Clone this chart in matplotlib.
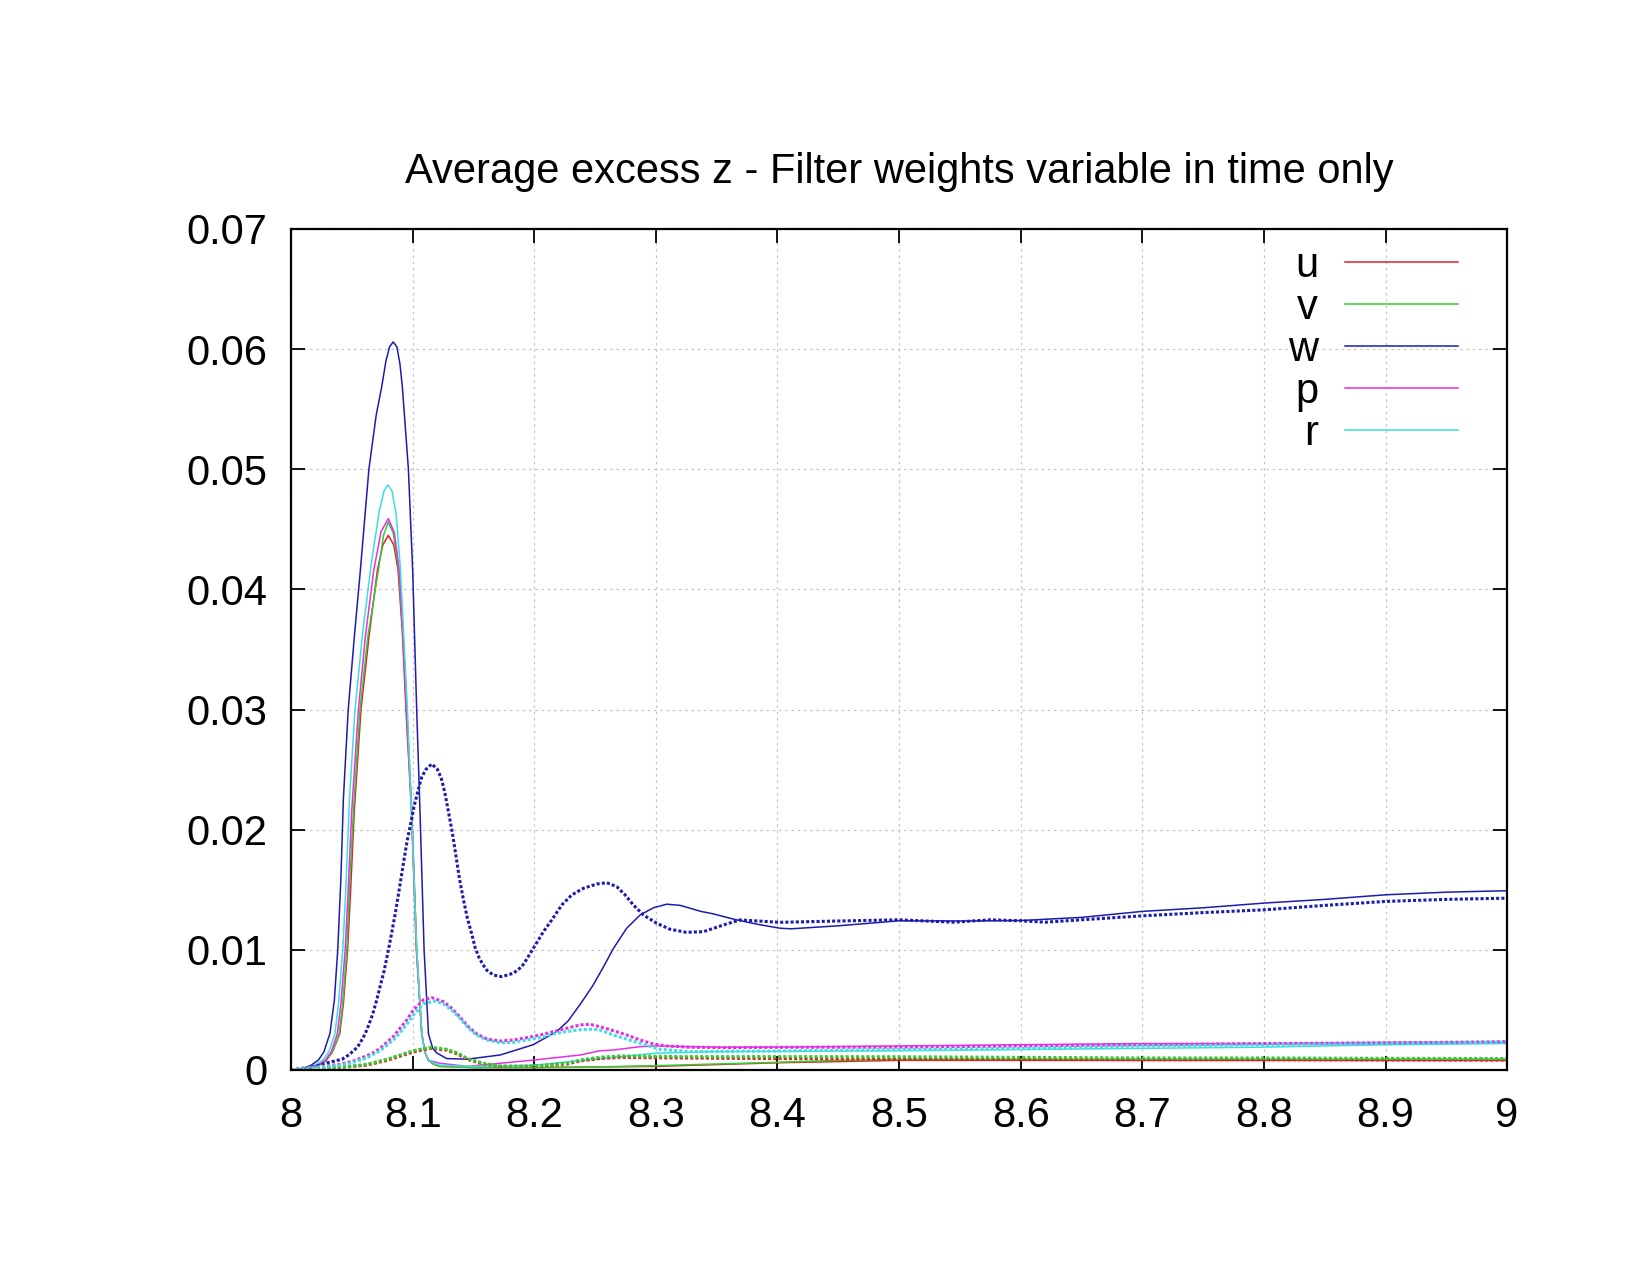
# excess_z.py
# average excess z for u, v, w, p, r, filter weights variable in time only
# solid lines and dotted lines per variable
import matplotlib
matplotlib.use("Agg")
import matplotlib.pyplot as plt

plt.rcParams["font.family"] = ["Liberation Sans", "DejaVu Sans"]

names = ["u", "v", "w", "p", "r"]
colors = ["#dd2222", "#33cc33", "#1c1cae", "#e62ee6", "#3ddede"]

x_ticks = [8.0, 8.1, 8.2, 8.3, 8.4, 8.5, 8.6, 8.7, 8.8, 8.9, 9.0]
x_labels = ["8", "8.1", "8.2", "8.3", "8.4", "8.5", "8.6", "8.7", "8.8", "8.9", "9"]
y_ticks = [0.0, 0.01, 0.02, 0.03, 0.04, 0.05, 0.06, 0.07]
y_labels = ["0", "0.01", "0.02", "0.03", "0.04", "0.05", "0.06", "0.07"]

# solid lines
u_x = [8.0, 8.012, 8.019, 8.025, 8.029, 8.034, 8.040, 8.043, 8.0465, 8.049, 8.052,
       8.0575, 8.064, 8.071, 8.0755, 8.080, 8.0845, 8.088, 8.0915, 8.0945, 8.099, 8.103,
       8.1075, 8.110, 8.113, 8.117, 8.122, 8.15, 8.2, 8.3, 8.4, 8.5, 8.6, 8.7, 8.8, 8.9,
       9.0]
u_y = [0.0, 0.00005, 0.0002, 0.0005, 0.0008, 0.0015, 0.003, 0.0055, 0.010, 0.015, 0.0216,
       0.030, 0.036, 0.0416, 0.0437, 0.0445, 0.0437, 0.0416, 0.0365, 0.030, 0.0216, 0.010,
       0.003, 0.0015, 0.0008, 0.0005, 0.0003, 0.0002, 0.0002, 0.0003, 0.0006, 0.0008, 0.0008,
       0.0008, 0.0008, 0.0008, 0.0008]

v_x = [8.0, 8.011, 8.018, 8.024, 8.0285, 8.034, 8.0395, 8.0425, 8.0458, 8.048, 8.0513,
       8.0567, 8.063, 8.0718, 8.076, 8.080, 8.084, 8.0885, 8.092, 8.0951, 8.0992, 8.1033,
       8.1075, 8.110, 8.113, 8.117, 8.122, 8.15, 8.2, 8.238, 8.3, 8.35, 8.4, 8.45, 8.5,
       8.6, 8.7, 8.8, 8.9, 9.0]
v_y = [0.0, 0.00005, 0.0002, 0.0005, 0.0008, 0.0015, 0.003, 0.0055, 0.010, 0.015, 0.0216,
       0.030, 0.036, 0.0416, 0.0445, 0.0456, 0.0447, 0.0416, 0.0365, 0.030, 0.0216, 0.010,
       0.003, 0.0015, 0.0008, 0.0005, 0.0003, 0.0002, 0.0002, 0.00022, 0.00036, 0.0005,
       0.00064, 0.0008, 0.00088, 0.0009, 0.0009, 0.0009, 0.0009, 0.0009]

w_x = [8.0, 8.010, 8.0165, 8.0225, 8.027, 8.032, 8.0356, 8.0384, 8.041, 8.043, 8.047,
       8.052, 8.057, 8.064, 8.070, 8.0746, 8.078, 8.081, 8.084, 8.087, 8.0895, 8.0915,
       8.0965, 8.100, 8.1033, 8.106, 8.1094, 8.113, 8.1165, 8.120, 8.128, 8.145, 8.172,
       8.199, 8.2185, 8.228, 8.238, 8.248, 8.257, 8.265, 8.276, 8.287, 8.298, 8.309, 8.320,
       8.337, 8.347, 8.366, 8.385, 8.402, 8.411, 8.45, 8.5, 8.55, 8.6, 8.65, 8.7, 8.75,
       8.8, 8.85, 8.9, 8.95, 9.0]
w_y = [0.0, 0.0001, 0.0004, 0.00083, 0.0015, 0.00305, 0.0058, 0.010, 0.016, 0.0225, 0.030,
       0.036, 0.0416, 0.050, 0.0545, 0.0569, 0.0590, 0.0602, 0.0606, 0.0602, 0.0588, 0.0569,
       0.050, 0.0416, 0.030, 0.0216, 0.010, 0.003, 0.0018, 0.0014, 0.00095, 0.0009, 0.00125,
       0.0021, 0.0032, 0.0041, 0.0055, 0.0070, 0.0086, 0.0101, 0.0118, 0.0129, 0.0135, 0.0138,
       0.0137, 0.0132, 0.0130, 0.0125, 0.0121, 0.0118, 0.01175, 0.0120, 0.01242, 0.0124,
       0.01244, 0.0127, 0.0132, 0.0135, 0.01389, 0.0142, 0.01458, 0.0148, 0.01492]

p_x = [8.0, 8.010, 8.016, 8.023, 8.028, 8.033, 8.038, 8.041, 8.0445, 8.047, 8.0499,
       8.0554, 8.061, 8.068, 8.074, 8.080, 8.085, 8.089, 8.092, 8.095, 8.0992, 8.1033,
       8.1075, 8.110, 8.113, 8.1225, 8.145, 8.2, 8.238, 8.254, 8.265, 8.287, 8.3, 8.35,
       8.4, 8.5, 8.6, 8.7, 8.8, 8.9, 9.0]
p_y = [0.0, 0.00005, 0.0002, 0.0005, 0.0008, 0.0015, 0.003, 0.0055, 0.010, 0.015, 0.0216,
       0.030, 0.036, 0.0416, 0.0448, 0.0459, 0.0447, 0.0416, 0.0365, 0.030, 0.0216, 0.010,
       0.003, 0.0015, 0.0008, 0.00056, 0.0003, 0.00083, 0.00125, 0.0016, 0.00166, 0.00194,
       0.002, 0.0019, 0.0019, 0.002, 0.0021, 0.0022, 0.0022, 0.0023, 0.0023]

r_x = [8.0, 8.009, 8.015, 8.021, 8.026, 8.031, 8.036, 8.039, 8.0425, 8.045, 8.048,
       8.0526, 8.059, 8.0658, 8.0725, 8.0765, 8.0795, 8.083, 8.0865, 8.090, 8.0957, 8.099,
       8.1033, 8.1075, 8.110, 8.113, 8.122, 8.15, 8.2, 8.25, 8.3, 8.35, 8.4, 8.5, 8.6, 8.7,
       8.8, 8.9, 9.0]
r_y = [0.0, 0.00005, 0.0002, 0.0005, 0.0008, 0.0015, 0.003, 0.0055, 0.010, 0.015, 0.0225,
       0.030, 0.0365, 0.042, 0.0465, 0.0482, 0.0487, 0.0482, 0.0462, 0.0416, 0.030, 0.0216,
       0.010, 0.003, 0.0015, 0.0008, 0.0004, 0.0003, 0.0004, 0.0009, 0.0014, 0.00153,
       0.00155, 0.0016, 0.0017, 0.0018, 0.0019, 0.0021, 0.0022]

# dotted lines
ud_x = [8.0, 8.0458, 8.0622, 8.0787, 8.0896, 8.1006, 8.1143, 8.128, 8.1376, 8.1445,
        8.1582, 8.1719, 8.2, 8.227, 8.2377, 8.254, 8.27, 8.32, 8.4, 8.5, 8.6, 8.7, 8.8,
        8.9, 9.0]
ud_y = [0.0, 0.00025, 0.0004, 0.0008, 0.00115, 0.0015, 0.0018, 0.00165, 0.0013, 0.0009,
        0.0005, 0.0003, 0.0003, 0.0005, 0.00075, 0.00095, 0.00105, 0.001, 0.00095, 0.0009,
        0.00088, 0.00085, 0.00085, 0.00083, 0.00082]

vd_x = [8.0, 8.0458, 8.0622, 8.0787, 8.0896, 8.1006, 8.1143, 8.128, 8.1376, 8.1445,
        8.1582, 8.1719, 8.186, 8.2, 8.227, 8.2377, 8.254, 8.27, 8.32, 8.4, 8.5, 8.6, 8.7,
        8.8, 8.9, 9.0]
vd_y = [0.0, 0.00028, 0.00047, 0.00089, 0.00125, 0.00161, 0.00189, 0.00172, 0.00139,
        0.00097, 0.00056, 0.00033, 0.0003, 0.00033, 0.00056, 0.00083, 0.00106, 0.00117,
        0.00111, 0.00111, 0.0011, 0.00105, 0.001, 0.001, 0.00097, 0.00095]

wd_x = [8.0, 8.020, 8.030, 8.042, 8.0452, 8.048, 8.0513, 8.0546, 8.0576, 8.0609, 8.0639,
        8.0672, 8.0702, 8.0732, 8.0765, 8.0795, 8.0828, 8.0861, 8.0891, 8.0921, 8.0951,
        8.0984, 8.1014, 8.1047, 8.1074, 8.111, 8.1157, 8.1203, 8.1236, 8.1264, 8.1294,
        8.1327, 8.1357, 8.1384, 8.1417, 8.145, 8.1486, 8.1513, 8.1546, 8.1576, 8.161,
        8.1664, 8.1733, 8.1828, 8.1897, 8.1924, 8.1987, 8.2075, 8.2144, 8.2226, 8.2308,
        8.2404, 8.2514, 8.2596, 8.2678, 8.2747, 8.2815, 8.2898, 8.3007, 8.3117, 8.325,
        8.3391, 8.3555, 8.3692, 8.402, 8.45, 8.5, 8.545, 8.575, 8.6, 8.62, 8.65, 8.7,
        8.75, 8.8, 8.85, 8.9, 8.95, 9.0]
wd_y = [0.0, 0.0003, 0.0006, 0.0009, 0.0011, 0.0013, 0.0016, 0.0019, 0.0024, 0.0030,
        0.00375, 0.00466, 0.00574, 0.00694, 0.00824, 0.00971, 0.01143, 0.01326, 0.01512,
        0.01701, 0.01887, 0.02053, 0.02206, 0.02336, 0.02436, 0.02503, 0.02547, 0.02503,
        0.02425, 0.02311, 0.0215, 0.0197, 0.01776, 0.01596, 0.0142, 0.01263, 0.01132,
        0.01021, 0.00935, 0.0088, 0.0083, 0.0079, 0.00777, 0.00805, 0.0086, 0.0090, 0.01004,
        0.01151, 0.01249, 0.01373, 0.01457, 0.01512, 0.01548, 0.01559, 0.01526, 0.01457,
        0.01373, 0.0129, 0.01221, 0.01171, 0.01146, 0.01151, 0.01207, 0.01249, 0.01229,
        0.0124, 0.0125, 0.0123, 0.0125, 0.01242, 0.0123, 0.0125, 0.01283, 0.0131, 0.01333,
        0.0137, 0.01403, 0.0142, 0.0143]

pd_x = [8.0, 8.016, 8.0403, 8.0513, 8.0622, 8.0677, 8.0732, 8.0787, 8.0841, 8.0896,
        8.0951, 8.1006, 8.1088, 8.1157, 8.1253, 8.1322, 8.139, 8.1458, 8.1527, 8.161,
        8.1719, 8.1828, 8.1938, 8.2048, 8.2157, 8.2267, 8.2377, 8.2459, 8.2541, 8.265,
        8.276, 8.287, 8.298, 8.309, 8.328, 8.361, 8.4, 8.5, 8.6, 8.7, 8.8, 8.9, 9.0]
pd_y = [0.0, 0.0002, 0.00047, 0.00075, 0.00117, 0.00144, 0.0018, 0.0023, 0.00277, 0.00347,
        0.00416, 0.005, 0.00583, 0.00602, 0.00569, 0.00513, 0.00439, 0.0036, 0.003, 0.00258,
        0.00241, 0.0025, 0.00269, 0.00291, 0.00319, 0.00347, 0.00375, 0.0038, 0.0036, 0.00327,
        0.00291, 0.0025, 0.00216, 0.002, 0.00189, 0.00186, 0.00189, 0.0019, 0.002, 0.0021,
        0.0022, 0.00225, 0.00236]

rd_x = [8.0, 8.02, 8.0403, 8.0513, 8.0622, 8.0732, 8.0841, 8.0896, 8.0951, 8.1006, 8.1088,
        8.1184, 8.1253, 8.1335, 8.139, 8.1458, 8.1527, 8.161, 8.1719, 8.1828, 8.1938,
        8.2048, 8.2157, 8.2267, 8.2377, 8.2486, 8.2541, 8.265, 8.287, 8.3035, 8.328, 8.4,
        8.5, 8.6, 8.7, 8.8, 8.9, 9.0]
rd_y = [0.0, 0.0002, 0.0004, 0.00065, 0.001, 0.0016, 0.0025, 0.0031, 0.0038, 0.00458,
        0.0055, 0.00574, 0.0055, 0.00486, 0.0043, 0.0035, 0.0029, 0.0025, 0.00227, 0.0023,
        0.0025, 0.0027, 0.0030, 0.0032, 0.00335, 0.00339, 0.00333, 0.00291, 0.00222, 0.00172,
        0.00153, 0.00158, 0.0017, 0.0018, 0.002, 0.0021, 0.0022, 0.00232]


def main():
    solid = [(u_x, u_y), (v_x, v_y), (w_x, w_y), (p_x, p_y), (r_x, r_y)]
    dotted = [(ud_x, ud_y), (vd_x, vd_y), (wd_x, wd_y), (pd_x, pd_y), (rd_x, rd_y)]

    fig = plt.figure(figsize=(16.5, 12.75), dpi=100)
    ax = fig.add_axes([0.1764, 0.1608, 0.7370, 0.6596])

    for (x, y), name, c in zip(solid, names, colors):
        ax.plot(x, y, color=c, lw=1.1, label=name)
    for (x, y), c in zip(dotted, colors):
        ax.plot(x, y, color=c, lw=2.2, linestyle=(0, (1, 0.7)), dash_capstyle="butt")

    ax.set_xlim(8, 9)
    ax.set_ylim(0, 0.07)
    ax.set_xticks(x_ticks)
    ax.set_xticklabels(x_labels)
    ax.set_yticks(y_ticks)
    ax.set_yticklabels(y_labels)
    ax.tick_params(direction="in", length=10, width=1.3, labelsize=30,
                   top=True, right=True)
    ax.tick_params(axis="x", pad=19)
    ax.tick_params(axis="y", pad=17)
    for s in ax.spines.values():
        s.set_linewidth(1.6)
    ax.grid(True, color="#c4c4c4", linestyle=(0, (2, 3)), lw=0.9)

    ax.set_title("Average excess z - Filter weights variable in time only",
                 fontsize=30, pad=33)

    ax.legend(loc="upper right", frameon=False, fontsize=30, markerfirst=False,
              handlelength=2.7, handletextpad=0.65, labelspacing=0.05,
              borderaxespad=0.0, bbox_to_anchor=(0.973, 1.0))

    fig.savefig("out.png", dpi=100)


main()
